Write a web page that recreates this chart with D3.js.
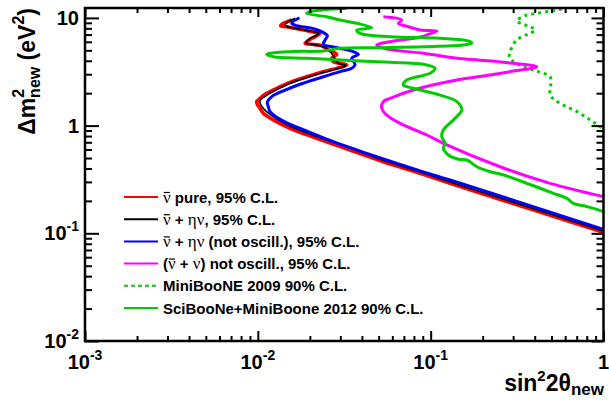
<!DOCTYPE html>
<html><head><meta charset="utf-8">
<script src="https://cdn.jsdelivr.net/npm/d3@7"></script>
<style>body{margin:0;background:#fff}svg{display:block}</style>
</head><body>
<svg id="c" width="609" height="400"></svg>
<script>
// ---- axis ranges ----
const xRange = [0.001, 1];
const yRange = [0.01, 12.36];
const xMajorTicks = [0.001, 0.01, 0.1, 1];
const xTickLabels = [["10","-3"],["10","-2"],["10","-1"],["1",""]];
const yMajorTicks = [0.01, 0.1, 1, 10];
const yTickLabels = [["10","-2"],["10","-1"],["1",""],["10",""]];

// ---- contours: [sin^2 2theta, dm^2 (eV^2)] ----
const redPure = [
 [0.01571,9.56],[0.01375,8.72],[0.01357,8.46],[0.01470,8.28],[0.01716,7.89],[0.02051,7.45],
 [0.02291,7.19],[0.02051,6.46],[0.01876,5.81],[0.02051,5.69],[0.02343,5.52],[0.02559,5.03],
 [0.02862,4.59],[0.02677,4.22],[0.02735,3.92],[0.02991,3.79],[0.03270,3.65],[0.02862,3.40],
 [0.02394,3.17],[0.01919,2.84],[0.01536,2.52],[0.01287,2.22],[0.01101,1.95],[0.01007,1.73],
 [0.00986,1.67],[0.00993,1.58],[0.01030,1.45],[0.01076,1.30],[0.01229,1.13],[0.01536,0.944],
 [0.02192,0.762],[0.03417,0.593],[0.05325,0.462],[0.08310,0.369],[0.1295,0.291],[1.0,0.1022]
];
const blackEta = [
 [0.01642,9.92],[0.01437,8.68],[0.01476,8.32],[0.01731,7.89],[0.02059,7.48],[0.02261,7.16],
 [0.01979,6.37],[0.01901,5.85],[0.02087,5.66],[0.02416,5.37],[0.02617,4.88],[0.02761,4.34],
 [0.02912,3.81],[0.03239,3.61],[0.02835,3.35],[0.02384,3.11],[0.01927,2.80],[0.01556,2.49],
 [0.01309,2.19],[0.01130,1.92],[0.01036,1.73],[0.01030,1.62],[0.01072,1.457],[0.01146,1.31],
 [0.01291,1.152],[0.01577,0.970],[0.0223,0.784],[0.0346,0.613],[0.0537,0.474],[0.0834,0.379],
 [0.1295,0.2995],[1.0,0.105]
];
const blueNotOsc = [
 [0.01739,10.04],[0.01571,8.91],[0.01680,8.46],[0.02051,8.01],[0.02343,7.45],[0.02525,6.83],
 [0.02449,6.23],[0.02394,5.69],[0.02677,5.40],[0.02991,5.22],[0.03570,4.86],[0.03816,4.59],
 [0.03495,4.22],[0.03652,3.71],[0.03495,3.40],[0.02991,3.17],[0.02394,2.84],[0.01755,2.42],
 [0.01405,2.10],[0.01204,1.86],[0.01135,1.65],[0.01150,1.50],[0.01177,1.35],[0.01405,1.10],
 [0.01755,0.944],[0.02735,0.709],[0.04268,0.553],[0.06652,0.437],[0.1036,0.348],[0.1295,0.313],
 [1.0,0.1089]
];
const magentaNuNubar = [
 [0.05325,10.26],[0.06805,9.56],[0.06503,8.91],[0.07430,8.28],[0.08685,7.72],[0.1085,7.56],
 [0.0970,7.04],[0.08884,6.69],[0.05821,6.01],[0.04876,5.60],[0.05325,5.22],[0.09076,4.69],
 [0.1416,4.22],[0.1932,4.05],[0.2881,3.82],[0.4111,3.52],[0.3010,3.21],[0.2207,2.95],
 [0.1416,2.65],[0.07941,2.14],[0.05821,1.79],[0.05325,1.67],[0.05212,1.45],[0.05571,1.25],
 [0.06652,1.05],[0.09494,0.818],[0.1184,0.685],[0.2521,0.415],[0.4909,0.291],[1.0,0.219]
];
const miniBooNE2009 = [
 [0.5737,12.09],[0.5021,11.59],[0.4111,11.03],[0.3519,10.48],[0.3150,9.36],[0.3440,8.72],
 [0.3761,8.28],[0.4019,7.72],[0.3761,7.19],[0.3367,6.69],[0.3079,6.01],[0.2881,4.86],
 [0.2853,4.36],[0.3010,3.92],[0.3440,3.52],[0.4200,3.17],[0.4909,2.84],[0.4955,2.38],
 [0.4909,1.92],[0.5247,1.73],[0.5861,1.55],[0.7007,1.35],[0.8367,1.13],[0.9557,0.977],[1.0,0.944]
];
const sciMiniBooNE2012 = [
 [0.03270,12.28],[0.0200,11.42],[0.01919,11.03],[0.0250,10.26],[0.02991,9.56],[0.03736,8.91],
 [0.04561,8.11],[0.03736,7.72],[0.03903,7.19],[0.05821,6.69],[0.1133,6.46],[0.1653,6.10],
 [0.1729,5.81],[0.1547,5.60],[0.09076,5.40],[0.04660,5.29],[0.02991,5.22],[0.02394,4.93],
 [0.01536,4.86],[0.01126,4.59],[0.01229,4.36],[0.01919,4.22],[0.02991,4.07],[0.03903,3.98],
 [0.05821,3.87],[0.09076,3.71],[0.1060,3.40],[0.0992,3.06],[0.07274,2.65],[0.06951,2.38],
 [0.07941,2.22],[0.1133,1.92],[0.1416,1.67],[0.1514,1.40],[0.1353,1.13],[0.1184,0.910],
 [0.1159,0.789],[0.1211,0.685],[0.1184,0.616],[0.1266,0.533],[0.1447,0.487],[0.1618,0.479],
 [0.1848,0.415],[0.2207,0.373],[0.2521,0.355],[0.3010,0.324],[0.3599,0.291],[0.4296,0.262],
 [0.5130,0.235],[0.6133,0.211],[0.6697,0.190],[0.8008,0.177],[0.9148,0.167],[1.0,0.159]
];

// ---- legend ----
const legendLabels = [
 [["ν","bar"],[" pure, 95% C.L."]],
 [["ν","bar"],[" + "],["ην","greek"],[", 95% C.L."]],
 [["ν","bar"],[" + "],["ην","greek"],[" (not oscill.), 95% C.L."]],
 [["("],["ν","bar"],[" + "],["ν","greek"],[") not oscill., 95% C.L."]],
 [["MiniBooNE 2009 90% C.L."]],
 [["SciBooNe+MiniBoone 2012 90% C.L."]]
];

// ---- styles ----
const series = [
 {data: miniBooNE2009, color:"#00cc00", width:3, dash:"3,4", leg:4},
 {data: magentaNuNubar, color:"#ff00ff", width:3, leg:3},
 {data: redPure, color:"#ff0000", width:3.6, leg:0},
 {data: blackEta, color:"#000000", width:1.6, leg:1},
 {data: blueNotOsc, color:"#0000ff", width:3, leg:2},
 {data: sciMiniBooNE2012, color:"#00cc00", width:3, leg:5}
];

const svg = d3.select("#c");
const L=85, R=603.5, T=8, B=341;
const x = d3.scaleLog().domain(xRange).range([L,R]);
const y = d3.scaleLog().domain(yRange).range([B,T]);
const FONT = "'Liberation Sans', Arial, Helvetica, sans-serif";

svg.append("defs").append("clipPath").attr("id","clip")
  .append("rect").attr("x",L).attr("y",T).attr("width",R-L).attr("height",B-T);

const line = d3.line().x(d=>x(d[0])).y(d=>y(d[1])).curve(d3.curveCatmullRom.alpha(0.5));
const gC = svg.append("g").attr("clip-path","url(#clip)");
series.forEach(s=>{
  gC.append("path").attr("d",line(s.data)).attr("fill","none")
    .attr("stroke",s.color).attr("stroke-width",s.width)
    .attr("stroke-linejoin","round")
    .attr("stroke-dasharray",s.dash||null);
});

// ---- axes ----
const isMajor = v => Math.abs(Math.log10(v)-Math.round(Math.log10(v)))<1e-6;
const xMinor = x.ticks().filter(v=>!isMajor(v));
const yMinor = y.ticks().filter(v=>!isMajor(v));
function addAxis(axis, tr){
  const g = svg.append("g").attr("transform",tr).call(axis);
  g.select(".domain").remove();
  g.selectAll("text").remove();
  g.selectAll("line").attr("stroke","#000").attr("stroke-width",2);
}
addAxis(d3.axisBottom(x).tickValues(xMajorTicks).tickSize(-10), `translate(0,${B})`);
addAxis(d3.axisBottom(x).tickValues(xMinor).tickSize(-5), `translate(0,${B})`);
addAxis(d3.axisTop(x).tickValues(xMajorTicks).tickSize(-9), `translate(0,${T})`);
addAxis(d3.axisTop(x).tickValues(xMinor).tickSize(-5), `translate(0,${T})`);
addAxis(d3.axisLeft(y).tickValues(yMajorTicks).tickSize(-14), `translate(${L},0)`);
addAxis(d3.axisLeft(y).tickValues(yMinor).tickSize(-7), `translate(${L},0)`);
addAxis(d3.axisRight(y).tickValues(yMajorTicks).tickSize(-12), `translate(${R},0)`);
addAxis(d3.axisRight(y).tickValues(yMinor).tickSize(-7), `translate(${R},0)`);

svg.append("rect").attr("x",L).attr("y",T).attr("width",R-L).attr("height",B-T)
  .attr("fill","none").attr("stroke","#000").attr("stroke-width",2.5);

// tick labels
xMajorTicks.forEach((v,i)=>{
  const t = svg.append("text").attr("x",x(v)).attr("y",369).attr("text-anchor","middle")
    .attr("font-family",FONT).attr("font-weight","bold").attr("font-size",20);
  t.append("tspan").text(xTickLabels[i][0]);
  if(xTickLabels[i][1]) t.append("tspan").attr("dy",-9).attr("font-size",14).text(xTickLabels[i][1]);
});
yMajorTicks.forEach((v,i)=>{
  const t = svg.append("text").attr("x",79).attr("y",y(v)+7).attr("text-anchor","end")
    .attr("font-family",FONT).attr("font-weight","bold").attr("font-size",20);
  t.append("tspan").text(yTickLabels[i][0]);
  if(yTickLabels[i][1]) t.append("tspan").attr("dy",-9).attr("font-size",14).text(yTickLabels[i][1]);
});

// axis titles
const xt = svg.append("text").attr("x",604).attr("y",391).attr("text-anchor","end")
  .attr("font-family",FONT).attr("font-weight","bold").attr("font-size",23);
xt.append("tspan").text("sin");
xt.append("tspan").attr("dy",-10).attr("font-size",15).text("2");
xt.append("tspan").attr("dy",10).text("2θ");
xt.append("tspan").attr("dy",4).attr("font-size",17).text("new");

const yt = svg.append("text").attr("transform","translate(35,8) rotate(-90)").attr("text-anchor","end")
  .attr("font-family",FONT).attr("font-weight","bold").attr("font-size",23);
yt.append("tspan").text("Δm");
yt.append("tspan").attr("dy",-11).attr("font-size",16).text("2");
yt.append("tspan").attr("dx",-9).attr("dy",16).attr("font-size",16).text("new");
yt.append("tspan").attr("dy",-5).text(" (eV");
yt.append("tspan").attr("dy",-11).attr("font-size",16).text("2");
yt.append("tspan").attr("dy",11).text(")");

// legend
series.forEach(s=>{
  const yy = 197 + s.leg*22.2;
  svg.append("line").attr("x1",124).attr("x2",158).attr("y1",yy).attr("y2",yy)
    .attr("stroke",s.color).attr("stroke-width",2).attr("stroke-dasharray",s.dash?"4,3":null);
  const t = svg.append("text").attr("x",163).attr("y",yy+5.5)
    .attr("font-family",FONT).attr("font-weight","bold").attr("font-size",15);
  const bars = [];
  let idx = 0;
  legendLabels[s.leg].forEach(seg=>{
    const sp = t.append("tspan").text(seg[0]);
    if(seg[1]==="bar"||seg[1]==="greek"){
      sp.attr("font-family","'Liberation Serif', 'DejaVu Serif', serif").attr("font-weight","normal").attr("font-size",17);
    }
    if(seg[1]==="bar") bars.push(idx);
    idx += seg[0].length;
  });
  bars.forEach(ci=>{
    const ext = t.node().getExtentOfChar(ci);
    svg.append("line").attr("x1",ext.x+0.8).attr("x2",ext.x+ext.width-0.8)
      .attr("y1",yy-4.5).attr("y2",yy-4.5).attr("stroke","#000").attr("stroke-width",1.2);
  });
});
</script>
</body></html>
